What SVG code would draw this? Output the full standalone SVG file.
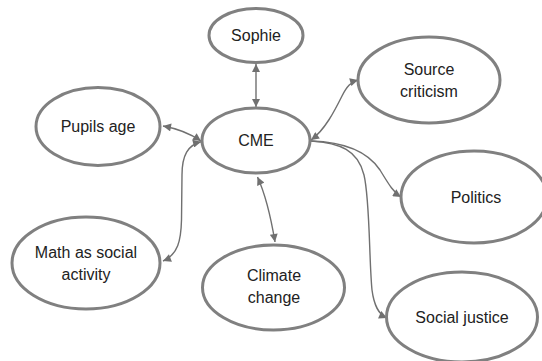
<svg xmlns="http://www.w3.org/2000/svg" width="542" height="361" viewBox="0 0 542 361">
<defs>
<style>
.n ellipse{fill:#fff;stroke:#808080;stroke-width:3}
.n text{font-family:"Liberation Sans",Arial,sans-serif;font-size:16px;fill:#222;text-anchor:middle}
.c path{fill:none;stroke:#707070;stroke-width:1.4}
.b{marker-start:url(#ah);marker-end:url(#ah)}
.e{marker-end:url(#ah)}
</style>
<marker id="ah" viewBox="0 0 10 10" refX="10" refY="5" markerWidth="9" markerHeight="8" markerUnits="userSpaceOnUse" orient="auto-start-reverse">
<path d="M0,0 L10,5 L0,10 z" fill="#707070"/>
</marker>
</defs>
<rect width="542" height="361" fill="#fff"/>
<g id="connectors" class="c">
<path class="b" d="M256,64 L256,107"/>
<path class="b" d="M163,126 Q185,130 201,141"/>
<path class="b" d="M163,261 C178,255 181,240 181.5,220 L182,175 C182,155 188,145 201,141.7"/>
<path class="b" d="M257.5,177 Q268,200 275,242"/>
<path class="b" d="M311,140 C325,130 335,110 342,96 C347,86 351,82 358,80"/>
<path class="e" d="M311,141 C345,142 368,152 380,170 C388,183 393,192 401,197"/>
<path class="e" d="M311,141 C340,143 358,150 364,175 C370,200 369,260 372,290 C374,305 378,314 387,318"/>
</g>
<g id="sophie" class="n"><ellipse cx="256" cy="35.5" rx="47" ry="27"/><text x="256" y="41">Sophie</text></g>
<g id="source" class="n"><ellipse cx="429" cy="80" rx="71" ry="43"/><text x="429" y="75">Source</text><text x="429" y="97">criticism</text></g>
<g id="pupils" class="n"><ellipse cx="98" cy="126.5" rx="62" ry="39"/><text x="98" y="132">Pupils age</text></g>
<g id="cme" class="n"><ellipse cx="256" cy="140.5" rx="54" ry="32.5"/><text x="256" y="146">CME</text></g>
<g id="politics" class="n"><ellipse cx="474" cy="197" rx="73" ry="46"/><text x="476" y="203">Politics</text></g>
<g id="math" class="n"><ellipse cx="86" cy="263" rx="74" ry="46"/><text x="86" y="258">Math as social</text><text x="86" y="280">activity</text></g>
<g id="climate" class="n"><ellipse cx="273.5" cy="287.5" rx="71" ry="42.5"/><text x="274" y="281">Climate</text><text x="274" y="303">change</text></g>
<g id="justice" class="n"><ellipse cx="462" cy="317" rx="75.5" ry="45"/><text x="462" y="323">Social justice</text></g>
</svg>
